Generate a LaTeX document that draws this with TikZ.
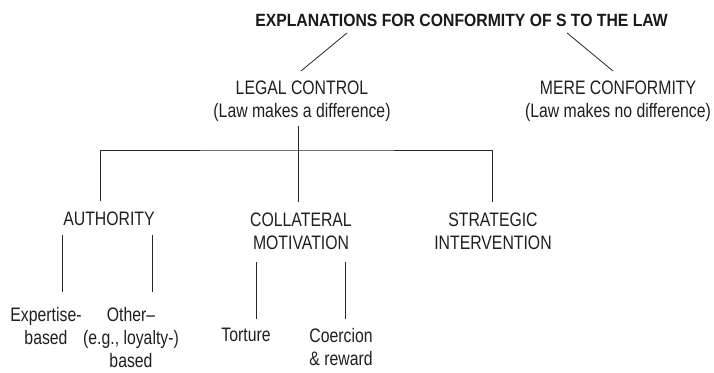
\documentclass[tikz,border=0pt]{standalone}
\usepackage{fontspec}
\setmainfont{Liberation Sans}[FakeStretch=0.81]
\newfontfamily\titlefont{Liberation Sans}[FakeStretch=0.89]
\usepackage{tikz}
\usetikzlibrary{positioning}

\begin{document}
\begin{tikzpicture}[x=1pt, y=1pt,
    lbl/.style={anchor=north, inner sep=0pt, align=center, text=black!88,
        font=\fontsize{19.5}{23}\selectfont},
    ttl/.style={anchor=north, inner sep=0pt, text=black!90,
        font=\titlefont\bfseries\fontsize{17.7}{20}\selectfont},
    link/.style={draw=black!85, line width=0.8pt}]
    \useasboundingbox (0,0) rectangle (714,-372);

    \node[ttl] (title) at (461.5,-14) {EXPLANATIONS FOR CONFORMITY OF S TO THE LAW};

    \node[lbl] (legal) at (302,-81) {LEGAL CONTROL\\(Law makes a difference)};
    \node[lbl] (mere) at (618,-81) {MERE CONFORMITY\\(Law makes no difference)};

    \node[lbl] (authority) at (109,-212) {AUTHORITY};
    \node[lbl] (collateral) at (301,-213) {COLLATERAL\\MOTIVATION};
    \node[lbl] (strategic) at (493,-213) {STRATEGIC\\INTERVENTION};

    \node[lbl] (expertise) at (46,-307) {Expertise-\\based};
    \node[lbl] (other) at (131,-307) {Other--\\(e.g., loyalty-)\\based};
    \node[lbl] (torture) at (246,-328) {Torture};
    \node[lbl] (coercion) at (341,-328) {Coercion\\\& reward};

    % top split
    \draw[link] ([shift={(-114.5,-6)}]title.south) -- ([shift={(-1,10)}]legal.north);
    \draw[link] ([shift={(105.5,-6)}]title.south) -- ([shift={(-5,10)}]mere.north);

    % legal control branches
    \coordinate (bar) at (298,-150);
    \draw[link] ([shift={(-4,-4)}]legal.south) -- ([shift={(-3,11)}]collateral.north);
    \draw[link] ([shift={(-9,11)}]authority.north) |- (bar) -| ([shift={(-1,11)}]strategic.north);

    % authority
    \draw[link] ([shift={(-47,-9)}]authority.south) -- ([shift={(16,15)}]expertise.north);
    \draw[link] ([shift={(43,-9)}]authority.south) -- ([shift={(21,15)}]other.north);

    % collateral motivation
    \draw[link] ([shift={(-45,-12)}]collateral.south) -- ([shift={(10,9)}]torture.north);
    \draw[link] ([shift={(44,-12)}]collateral.south) -- ([shift={(4,9)}]coercion.north);
\end{tikzpicture}
\end{document}
